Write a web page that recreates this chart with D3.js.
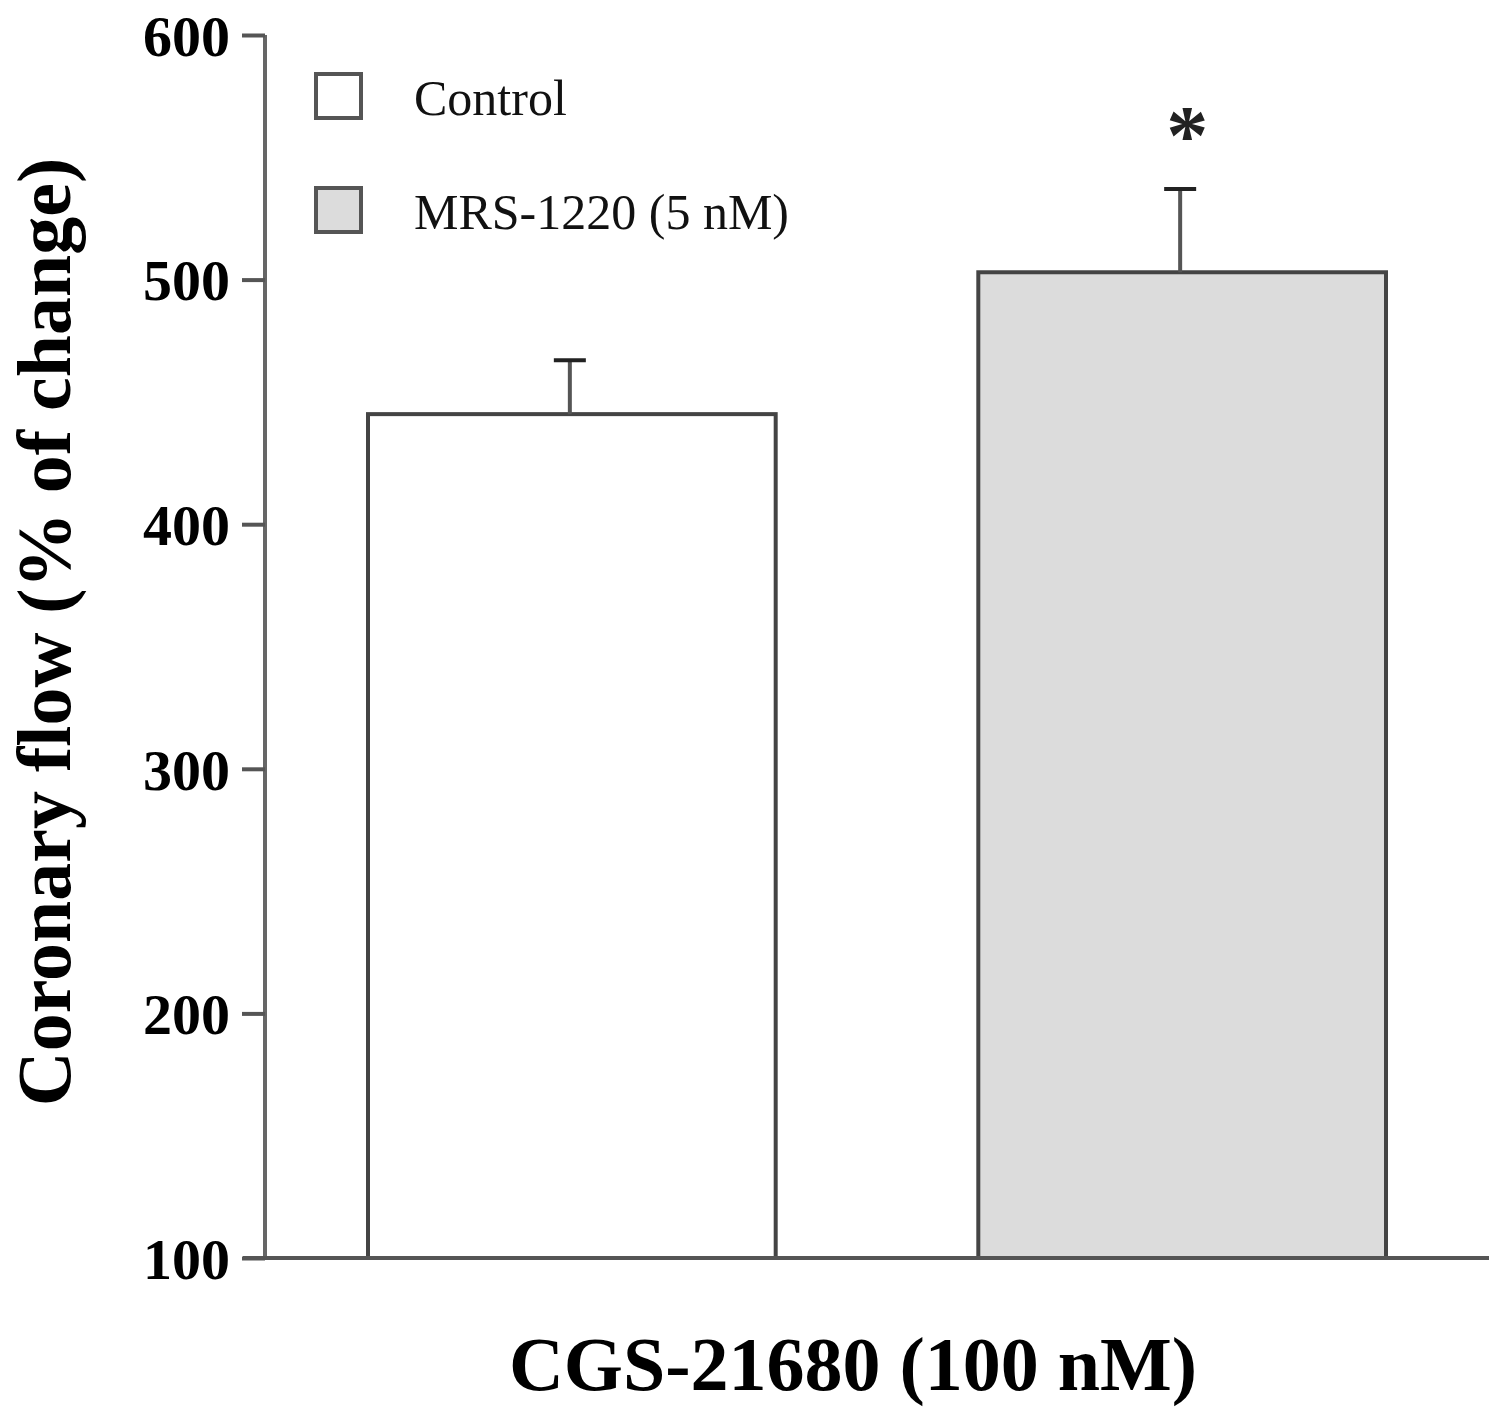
<!DOCTYPE html>
<html><head><meta charset="utf-8">
<script src="https://cdn.jsdelivr.net/npm/d3@7"></script>
<style>body{margin:0;background:#fff}svg{display:block}</style>
</head><body>
<script>
const categories = ["Control", "MRS-1220 (5 nM)"];
const means = [445, 503];
const errors = [22, 34];
const fills = ["#ffffff", "#dcdcdc"];
const yTicks = [100, 200, 300, 400, 500, 600];
const significance = ["", "*"];

const W = 1500, H = 1411;
const svg = d3.select("body").append("svg").attr("width", W).attr("height", H);
const font = "'Liberation Serif','Times New Roman',serif";

const y = d3.scaleLinear().domain([100, 600]).range([1258, 35]);
const x = d3.scaleBand().domain(categories).range([368, 1386]).paddingInner(0.332).paddingOuter(0);

// axes
const yAxis = svg.append("g").attr("transform", "translate(265,0)")
  .call(d3.axisLeft(y).tickValues(yTicks).tickSize(23).tickPadding(12).tickFormat(d3.format("d")));
yAxis.select(".domain").attr("stroke", "#666").attr("stroke-width", 4).attr("d", `M0,${y(600)}V${y(100)}`);
yAxis.selectAll(".tick line").attr("stroke", "#555").attr("stroke-width", 4);
yAxis.selectAll(".tick text").attr("font-family", font).attr("font-weight", "bold")
  .attr("font-size", 58).attr("fill", "#000").attr("dy", "0.35em");

// bars
const g = svg.append("g");
categories.forEach((c, i) => {
  const bx = x(c), bw = x.bandwidth();
  g.append("rect").attr("x", bx).attr("y", y(means[i])).attr("width", bw)
    .attr("height", y(100) - y(means[i])).attr("fill", fills[i])
    .attr("stroke", "#444").attr("stroke-width", 4);
  const cx = bx + bw / 2 - 2;
  g.append("line").attr("x1", cx).attr("x2", cx).attr("y1", y(means[i])).attr("y2", y(means[i] + errors[i]))
    .attr("stroke", "#555").attr("stroke-width", 4);
  g.append("line").attr("x1", cx - 16).attr("x2", cx + 16).attr("y1", y(means[i] + errors[i])).attr("y2", y(means[i] + errors[i]))
    .attr("stroke", "#222").attr("stroke-width", 4);
  if (significance[i]) {
    g.append("text").attr("x", cx + 7).attr("y", y(means[i] + errors[i]) - 25)
      .attr("text-anchor", "middle").attr("font-family", font).attr("font-weight", "bold")
      .attr("font-size", 84).attr("fill", "#222").text(significance[i]);
  }
});

// x axis line
svg.append("line").attr("x1", 243).attr("x2", 1489).attr("y1", y(100)).attr("y2", y(100))
  .attr("stroke", "#555").attr("stroke-width", 4);

// legend
categories.forEach((c, i) => {
  const ly = 74 + i * 114;
  svg.append("rect").attr("x", 316).attr("y", ly).attr("width", 45).attr("height", 44)
    .attr("fill", fills[i]).attr("stroke", "#555").attr("stroke-width", 4);
  svg.append("text").attr("x", 414).attr("y", ly + 41).attr("font-family", font)
    .attr("font-size", 50).attr("fill", "#111").text(c);
});

// axis titles
svg.append("text").attr("x", 853).attr("y", 1390).attr("text-anchor", "middle")
  .attr("font-family", font).attr("font-weight", "bold").attr("font-size", 76).text("CGS-21680 (100 nM)");
svg.append("text").attr("transform", "translate(70,632) rotate(-90)").attr("text-anchor", "middle")
  .attr("font-family", font).attr("font-weight", "bold").attr("font-size", 76).text("Coronary flow (% of change)");
</script>
</body></html>
